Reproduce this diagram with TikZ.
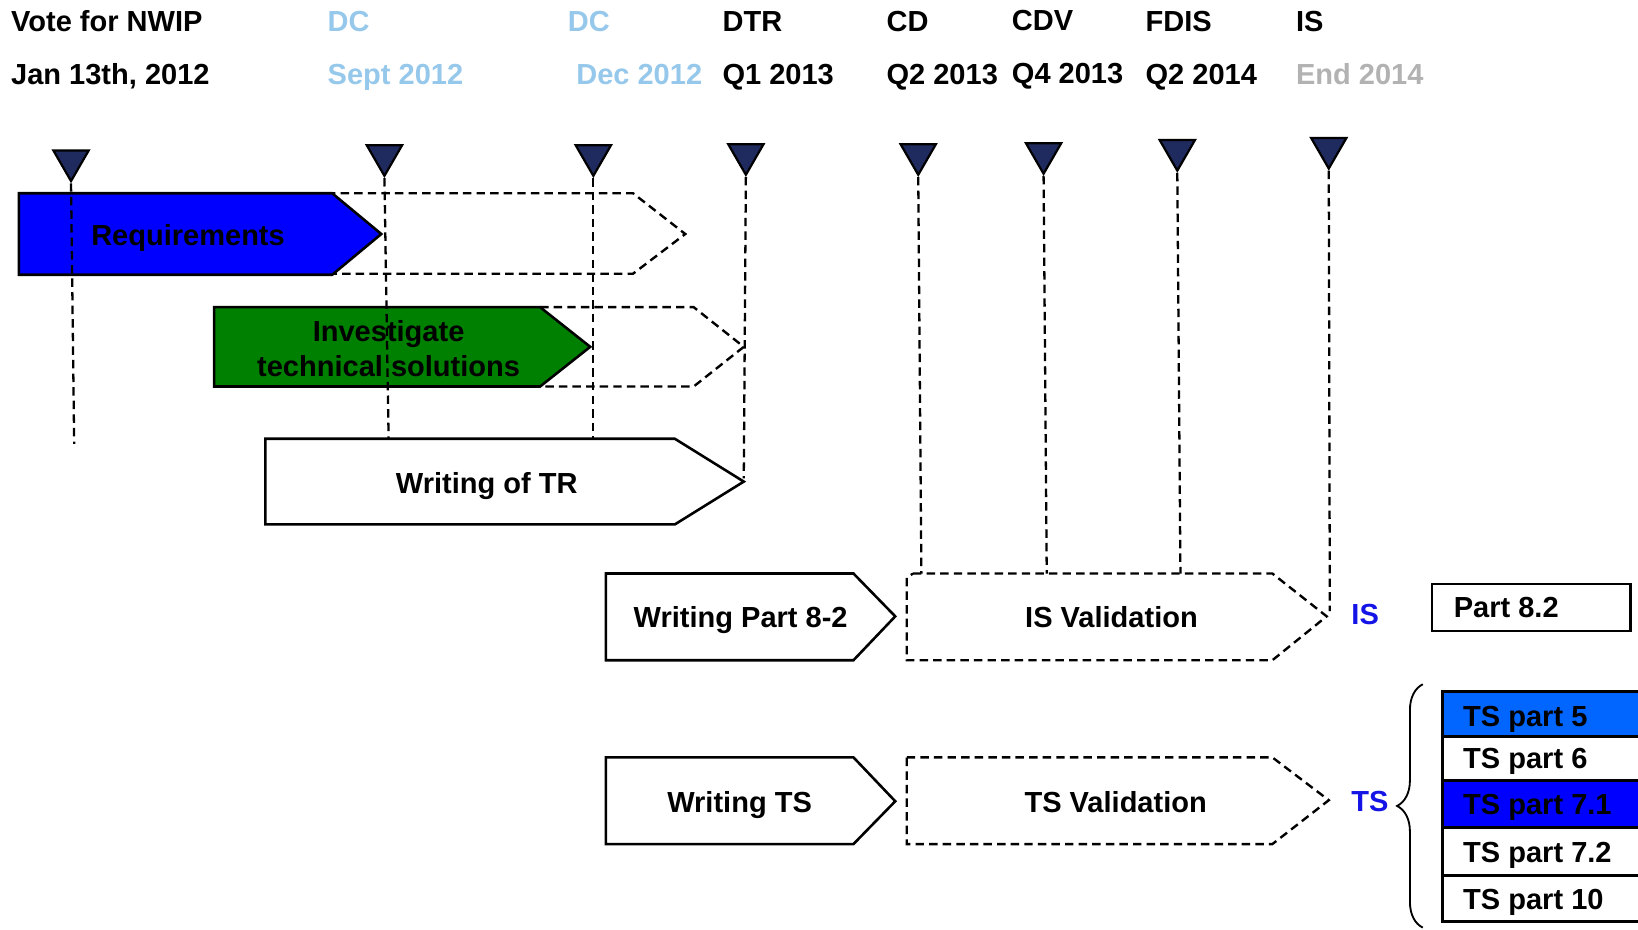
\documentclass[tikz,border=0pt]{standalone}
\usepackage{fontspec}
\setmainfont{Liberation Sans}
\usepackage{xcolor}
\usetikzlibrary{shapes.geometric,decorations.pathreplacing}

\definecolor{navy}{RGB}{31,42,94}
\definecolor{reqblue}{RGB}{0,0,255}
\definecolor{techgreen}{RGB}{0,128,0}
\definecolor{dcblue}{RGB}{150,200,235}
\definecolor{endgrey}{RGB}{178,178,178}
\definecolor{tagblue}{RGB}{20,20,230}
\definecolor{partfive}{RGB}{0,102,255}

\tikzset{
	lbl/.style={anchor=base west, inner sep=0pt, font=\fontsize{7.9pt}{9.6pt}\selectfont\bfseries},
	txt/.style={anchor=base, inner sep=0pt, font=\fontsize{7.9pt}{9.6pt}\selectfont\bfseries},
	mile/.style={regular polygon, regular polygon sides=3, shape border rotate=180, anchor=north,
		draw=black, fill=navy, line width=0.6pt, minimum size=0.39cm, inner sep=0pt},
	tline/.style={line width=0.62pt, dash pattern=on 2.3pt off 1.4pt},
	phase/.style={draw=black, line width=0.7pt},
	ghost/.style={draw=black, line width=0.65pt, dash pattern=on 2.3pt off 1.4pt},
}

\begin{document}
\begin{tikzpicture}[x=0.01cm, y=-0.01cm]
		\clip (0,0) rectangle (1568,890);
		
		% milestones
		\node [lbl] (m1a) at (10, 30) {Vote for NWIP};
		\node [lbl] (m1b) at (10, 81) {Jan 13th, 2012};
		\node [lbl, text=dcblue] (m2a) at (313, 30) {DC};
		\node [lbl, text=dcblue] (m2b) at (313, 81) {Sept 2012};
		\node [lbl, text=dcblue] (m3a) at (543, 30) {DC};
		\node [lbl, text=dcblue] (m3b) at (551, 81) {Dec 2012};
		\node [lbl] (m4a) at (691, 30) {DTR};
		\node [lbl] (m4b) at (691, 81) {Q1 2013};
		\node [lbl] (m5a) at (848, 30) {CD};
		\node [lbl] (m5b) at (848, 81) {Q2 2013};
		\node [lbl] (m6a) at (968, 29) {CDV};
		\node [lbl] (m6b) at (968, 80) {Q4 2013};
		\node [lbl] (m7a) at (1096, 30) {FDIS};
		\node [lbl] (m7b) at (1096, 81) {Q2 2014};
		\node [lbl] (m8a) at (1240, 30) {IS};
		\node [lbl, text=endgrey] (m8b) at (1240, 81) {End 2014};
		
		% triangles
		\node [mile] (t1) at (68, 143) {};
		\node [mile] (t2) at (368, 138) {};
		\node [mile] (t3) at (568, 138) {};
		\node [mile] (t4) at (714, 137) {};
		\node [mile] (t5) at (879, 137) {};
		\node [mile] (t6) at (999, 136) {};
		\node [mile] (t7) at (1127, 133) {};
		\node [mile] (t8) at (1272, 131) {};
		
		% requirements
		\draw [ghost] (300,185) -- (606,185) -- (656,224) -- (606,262) -- (318,262);
		\draw [phase, fill=reqblue] (18,185) -- (318,185) -- (365,224) -- (318,263) -- (18,263) -- cycle;
		\node [txt] (req) at (180, 235) {Requirements};
		
		% investigate
		\draw [ghost] (517,294) -- (664,294) -- (712,332) -- (664,370) -- (517,370);
		\draw [phase, fill=techgreen] (205,294) -- (517,294) -- (565,332) -- (517,370) -- (205,370) -- cycle;
		\node [txt, anchor=center, align=center] (inv) at (372, 334) {Investigate\\technical solutions};
		
		% writing of TR
		\draw [phase, fill=white] (254,420) -- (646,420) -- (712,461) -- (646,502) -- (254,502) -- cycle;
		\node [txt] (tr) at (466, 472) {Writing of TR};
		
		% IS row
		\draw [phase, fill=white] (580,549) -- (817,549) -- (857,590) -- (817,632) -- (580,632) -- cycle;
		\node [txt] (wis) at (709, 601) {Writing Part 8-2};
		\draw [ghost] (874,549) -- (1218,549) -- (1270,590) -- (1218,632) -- (868,632) -- (868,553) -- cycle;
		\node [txt] (vis) at (1064, 601) {IS Validation};
		\node [lbl, text=tagblue] (is) at (1293, 598) {IS};
		
		% TS row
		\draw [phase, fill=white] (580,725) -- (817,725) -- (857,767) -- (817,808) -- (580,808) -- cycle;
		\node [txt] (wts) at (708, 778) {Writing TS};
		\draw [ghost] (868,725) -- (1218,725) -- (1272,766) -- (1218,808) -- (868,808) -- cycle;
		\node [txt] (vts) at (1068, 778) {TS Validation};
		\node [lbl, text=tagblue] (ts) at (1293, 777) {TS};
		
		% dash lines of milestones
		\coordinate (e1) at (71, 425);
		\coordinate (e2) at (372, 420);
		\coordinate (e3) at (568, 420);
		\coordinate (e4) at (712, 458);
		\coordinate (e5) at (882, 549);
		\coordinate (e6) at (1002, 549);
		\coordinate (e7) at (1130, 549);
		\coordinate (e8) at (1273, 585);
		\draw [tline] (t1.corner 1) -- (e1);
		\draw [tline] (t2.corner 1) -- (e2);
		\draw [tline] (t3.corner 1) -- (e3);
		\draw [tline] (t4.corner 1) -- (e4);
		\draw [tline] (t5.corner 1) -- (e5);
		\draw [tline] (t6.corner 1) -- (e6);
		\draw [tline] (t7.corner 1) -- (e7);
		\draw [tline] (t8.corner 1) -- (e8);
		
		% part 8.2
		\draw [phase] (1371,559) rectangle (1561,604);
		\node [lbl] (p82) at (1391, 591) {Part 8.2};
		
		% TS parts
		\draw [phase, fill=partfive] (1381,662) rectangle (1600,705);
		\node [lbl] (p5) at (1400, 695) {TS part 5};
		\draw [phase, fill=white] (1381,705) rectangle (1600,747);
		\node [lbl] (p6) at (1400, 736) {TS part 6};
		\draw [phase, fill=reqblue] (1381,747) rectangle (1600,792);
		\node [lbl] (p71) at (1400, 780) {TS part 7.1};
		\draw [phase, fill=white] (1381,792) rectangle (1600,838);
		\node [lbl] (p72) at (1400, 826) {TS part 7.2};
		\draw [phase, fill=white] (1381,838) rectangle (1600,882);
		\node [lbl] (p10) at (1400, 871) {TS part 10};
		
		% brace
		\coordinate (b1) at (1362, 888);
		\coordinate (b2) at (1362, 655);
		\draw [decorate, decoration={brace, amplitude=7pt}, line width=0.5pt] (b1) -- (b2);
		
\end{tikzpicture}
\end{document}
